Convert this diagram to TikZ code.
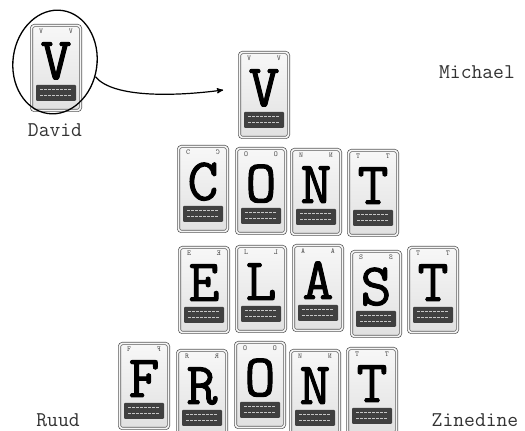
\documentclass[tikz,border=0pt]{standalone}
\usepackage{fontspec}
\newfontfamily\glyphfont[FakeBold=1.6]{Latin Modern Mono}
\usepackage{tikz}
\usetikzlibrary{arrows,shapes.geometric}

% one letter card: name, x, y, letter
\newcommand{\card}[4]{%
  \node[card] (#1) at (#2,#3) {};
  \node[band] (#1b) at ([yshift=18pt]#1.south) {};
  \draw[bandline] ([xshift=-16pt,yshift=21pt]#1.south) -- ([xshift=16pt,yshift=21pt]#1.south);
  \draw[bandline] ([xshift=-16pt,yshift=15pt]#1.south) -- ([xshift=16pt,yshift=15pt]#1.south);
  \node[glyph] (#1g) at ([yshift=-11pt]#1.center) {#4};
  \node[cornerltr] (#1l) at ([xshift=-15pt,yshift=-6.5pt]#1.north) {#4};
  \node[cornerltr,xscale=-1] (#1r) at ([xshift=15pt,yshift=-6.5pt]#1.north) {#4};
}

\begin{document}
\begin{tikzpicture}[x=1pt,y=1pt,
         >=stealth', semithick]
  \tikzstyle{card}=[draw=black!65, line width=0.7pt, double=gray!8,
        double distance=1.6pt, rounded corners=3pt,
        top color=gray!6, bottom color=gray!24,
        minimum width=49pt, minimum height=85pt, inner sep=0pt]
  \tikzstyle{band}=[fill=black!75, rounded corners=1pt,
        minimum width=40pt, minimum height=16pt, inner sep=0pt]
  \tikzstyle{bandline}=[gray!45, line width=0.7pt, dash pattern=on 3pt off 1pt]
  \tikzstyle{glyph}=[anchor=base, inner sep=0pt, text height=37pt, text depth=0pt,
        font=\glyphfont\fontsize{60}{60}\selectfont]
  \tikzstyle{cornerltr}=[inner sep=0pt, text=black!70,
        font=\ttfamily\fontsize{7.5}{7.5}\selectfont]
  \tikzstyle{person}=[text=black!80, inner sep=1pt,
        font=\ttfamily\fontsize{21}{21}\selectfont]
\useasboundingbox (0,0) rectangle (525,431);

\card{vD}{56}{363}{V}
\card{vM}{264}{336}{V}
\foreach \nm/\x/\y/\l in {c1/203/242/C, o1/261/240/O, n1/316/239/N, t1/373/238/T,
      e2/204/141/E, l2/261/142/L, a2/318/143/A, s2/376/137/S, t2/433/141/T,
      f3/144/45/F, r3/202/38/R, o3/260/46/O, n3/315/38/N, t3/372/40/T}
  \card{\nm}{\x}{\y}{\l};

\node[draw, ellipse, line width=1.3pt, minimum width=84pt,
      minimum height=104pt, rotate=-8] (loop) at (55,369) {};
\draw[->, line width=1.2pt] (loop.-12) .. controls +(18,-22) and +(-45,-6) ..
      ([xshift=-16pt,yshift=5pt]vM.west);

\node[person] (david) at (55,301) {David};
\node[person] (michael) at (477,359) {Michael};
\node[person] (ruud) at (58,11) {Ruud};
\node[person] (zinedine) at (475,11) {Zinedine};
\end{tikzpicture}
\end{document}
